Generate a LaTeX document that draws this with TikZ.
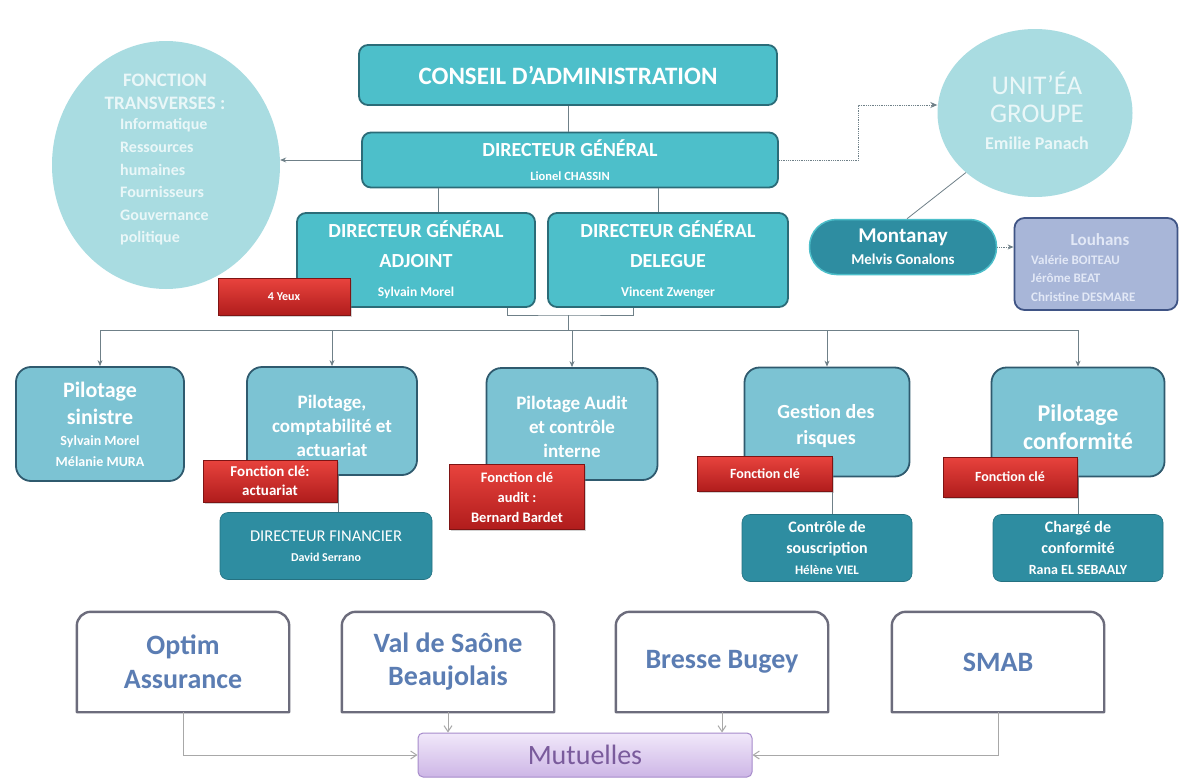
\documentclass[tikz,border=0pt]{standalone}
\usepackage{fontspec}
\setmainfont{Carlito}
\usetikzlibrary{shapes.geometric,arrows.meta,shadows}
\definecolor{tealA}{HTML}{4DBFCA}
\definecolor{tealBorder}{HTML}{2B6C78}
\definecolor{tealL}{HTML}{7CC3D3}
\definecolor{pBorder}{HTML}{2F5A6E}
\definecolor{tealDk}{HTML}{2E8DA1}
\definecolor{ellC}{HTML}{A9DCE1}
\definecolor{ellT}{HTML}{EAF7F8}
\definecolor{redT}{HTML}{E8433D}
\definecolor{redB}{HTML}{B01C1C}
\definecolor{redD}{HTML}{7E1414}
\definecolor{lavB}{HTML}{A8B6D8}
\definecolor{lavD}{HTML}{3F5485}
\definecolor{lavT}{HTML}{E2E8F6}
\definecolor{lineC}{HTML}{6F8088}
\definecolor{grayL}{HTML}{A8A8A8}
\definecolor{boxBorder}{HTML}{6C6C7C}
\definecolor{mutTop}{HTML}{F1E8FA}
\definecolor{mutBot}{HTML}{CDB6E6}
\definecolor{mutD}{HTML}{A68BCB}
\definecolor{mutT}{HTML}{7A5B9C}
\definecolor{bText}{HTML}{5B7DB3}
\newcommand\myfs[2]{\fontsize{#1}{#2}\selectfont}
\begin{document}
\begin{tikzpicture}[x=1pt,y=-1pt,
  topbox/.style={rectangle, rounded corners=9pt, fill=tealA, draw=tealBorder, line width=1.8pt, text=white, align=center, inner sep=0pt},
  pbox/.style={rectangle, rounded corners=15pt, fill=tealL, draw=pBorder, line width=1.8pt, text=white, align=center, inner sep=0pt},
  dbox/.style={rectangle, rounded corners=8pt, fill=tealDk, draw=tealDk!80!black, line width=0.6pt, text=white, align=center, inner sep=0pt},
  rbox/.style={rectangle, top color=redT, bottom color=redB, draw=redD, line width=0.8pt, text=white, align=center, inner sep=0pt, drop shadow={shadow xshift=1.5pt, shadow yshift=-1.5pt, opacity=0.35}},
  wbox/.style={rectangle, fill=white, draw=none, text=bText, align=center, inner sep=0pt, minimum width=212pt, minimum height=100pt},
  conn/.style={draw=lineC, line width=0.8pt},
  arr/.style={conn, -{Stealth[length=6pt,width=5pt]}},
  garr/.style={draw=grayL, line width=1pt, -{Straight Barb[length=6pt,width=8pt]}},
  lbl/.style={inner sep=0pt, align=center}
]
\useasboundingbox (0,0) rectangle (1179,779);
\fill[white] (0,0) rectangle (1179,779);

% ---- ellipses ----
\node[ellipse, fill=ellC, minimum width=228pt, minimum height=248pt, inner sep=0pt] (FT) at (166,165) {};
\node[lbl, text=ellT, font=\myfs{19}{23}\bfseries] (FTt) at (165,92) {FONCTION\\TRANSVERSES :};
\node[lbl, text=ellT, anchor=west, align=left, font=\myfs{16}{22.6}\bfseries] (FTl) at (120,182) {Informatique\\Ressources\\humaines\\Fournisseurs\\Gouvernance\\politique};

\node[ellipse, fill=ellC, minimum width=195pt, minimum height=168pt, inner sep=0pt] (UG) at (1035,113) {};
\node[lbl, text=ellT, font=\myfs{27}{27.5}] (UGt) at (1037,111) {UNIT'ÉA\\GROUPE\\{\fontsize{18}{27.5}\selectfont\bfseries Emilie Panach}};

% ---- top boxes ----
\node[topbox, minimum width=418pt, minimum height=60pt, font=\myfs{25}{28}\bfseries] (CA) at (568,75) {CONSEIL D'ADMINISTRATION};
\node[topbox, minimum width=416pt, minimum height=55pt, font=\myfs{20}{24}\bfseries] (DG) at (570,160) {DIRECTEUR GÉNÉRAL\\{\fontsize{12.5}{24}\selectfont Lionel CHASSIN}};
\node[topbox, minimum width=238pt, minimum height=94pt, font=\myfs{20}{29.5}\bfseries] (DGA) at (416,260) {DIRECTEUR GÉNÉRAL\\ADJOINT\\{\fontsize{13.5}{29.5}\selectfont Sylvain Morel}};
\node[topbox, minimum width=240pt, minimum height=94pt, font=\myfs{20}{29.5}\bfseries] (DGD) at (668,260) {DIRECTEUR GÉNÉRAL\\DELEGUE\\{\fontsize{13.5}{29.5}\selectfont Vincent Zwenger}};

% ---- Montanay / Louhans ----
\node[rectangle, rounded corners=27pt, fill=tealDk, draw=tealA, line width=1.5pt, text=white, align=center, inner sep=0pt, minimum width=187pt, minimum height=55pt, font=\myfs{21}{22}\bfseries] (MT) at (903,247) {Montanay\\{\fontsize{15}{22}\selectfont Melvis Gonalons}};
\node[rectangle, rounded corners=10pt, fill=lavB, draw=lavD, line width=1.8pt, minimum width=163pt, minimum height=92pt, inner sep=0pt] (LH) at (1096,264) {};
\node[lbl, text=lavT, font=\myfs{17}{19}\bfseries] (LHt) at (1100,240) {Louhans};
\node[lbl, text=lavT, anchor=west, align=left, font=\myfs{13}{18.5}\bfseries] (LHl) at (1031,278) {Valérie BOITEAU\\Jérôme BEAT\\Christine DESMARE};

% ---- pilotage row ----
\node[pbox, minimum width=168pt, minimum height=114pt, font=\myfs{22}{21}\bfseries] (P1) at (100,424) {Pilotage\\[6pt]sinistre\\{\fontsize{14}{21}\selectfont Sylvain Morel}\\{\fontsize{14}{21}\selectfont Mélanie MURA}};
\node[pbox, minimum width=170pt, minimum height=108pt] (P2) at (332,421) {};
\node[lbl, text=white, font=\myfs{19}{24}\bfseries] (P2t) at (332,426) {Pilotage,\\comptabilité et\\actuariat};
\node[pbox, minimum width=171pt, minimum height=112pt] (P3) at (572,424) {};
\node[lbl, text=white, font=\myfs{19}{24}\bfseries] (P3t) at (572,427) {Pilotage Audit\\et contrôle\\interne};
\node[pbox, minimum width=165pt, minimum height=109pt] (P4) at (827,422) {};
\node[lbl, text=white, font=\myfs{20}{26}\bfseries] (P4t) at (826,426) {Gestion des\\risques};
\node[pbox, minimum width=173pt, minimum height=109pt] (P5) at (1078,422) {};
\node[lbl, text=white, font=\myfs{24}{28}\bfseries] (P5t) at (1078,427) {Pilotage\\conformité};

% ---- dark boxes ----
\node[dbox, minimum width=212pt, minimum height=67pt, font=\myfs{16.5}{20}] (DF) at (326,546) {DIRECTEUR FINANCIER\\{\fontsize{12}{20}\selectfont\bfseries David Serrano}};
\node[dbox, minimum width=170pt, minimum height=67pt, font=\myfs{16}{21}\bfseries] (CS) at (827,548) {Contrôle de\\souscription\\{\fontsize{13}{21}\selectfont Hélène VIEL}};
\node[dbox, minimum width=170pt, minimum height=67pt, font=\myfs{16}{21}\bfseries] (CC) at (1078,548) {Chargé de\\conformité\\{\fontsize{14}{21}\selectfont Rana EL SEBAALY}};

% ---- bottom boxes ----
\node[wbox, font=\myfs{28}{34}\bfseries] (B1) at (183,662) {Optim\\Assurance};
\node[wbox, font=\myfs{28}{33}\bfseries] (B2) at (448,662) {Val de Saône\\Beaujolais};
\node[wbox, font=\myfs{28}{33}\bfseries] (B3) at (722,662) {Bresse Bugey};
\node[wbox, font=\myfs{28}{33}\bfseries] (B4) at (998,662) {SMAB};
\foreach \b in {B1,B2,B3,B4}{
  \draw[boxBorder, line width=2.4pt, line join=round] (\b.south west) [rounded corners=14pt] -- (\b.north west) -- (\b.north east) [sharp corners] -- (\b.south east) -- cycle;
}
\node[rectangle, rounded corners=5pt, top color=mutTop, bottom color=mutBot, draw=mutD, line width=1pt, text=mutT, inner sep=0pt, minimum width=334pt, minimum height=44pt, font=\myfs{28}{30}] (MU) at (585,755) {Mutuelles};

% ---- connectors ----
\draw[conn] (CA.south) -- (CA.south |- DG.north);
\draw[arr] (DG.west) -- (DG.west -| FT.east);
\draw[conn, densely dotted, line width=1pt, -{Stealth[length=7pt,width=6pt]}] (DG.east) -- ++(80,0) |- ([yshift=8pt]UG.west);
\draw[conn] (UG.south west) -- ([xshift=4pt]MT.north);
\draw[conn, densely dotted, line width=1pt, -{Stealth[length=6pt,width=5pt]}] (MT.east) -- (MT.east -| LH.west);
\draw[conn] ([xshift=22pt]DGA.north) -- ([xshift=22pt]DGA.north |- DG.south);
\draw[conn] ([xshift=-10pt]DGD.north) -- ([xshift=-10pt]DGD.north |- DG.south);
\coordinate (J) at (568,315);
\coordinate (bus) at (568,330);
\draw[conn] ([xshift=91pt]DGA.south) |- (J) -| ([xshift=-35pt]DGD.south);
\draw[conn] (J) -- (bus);
\draw[conn] (P1.north |- bus) -- (P5.north |- bus);
\foreach \p in {P1,P2,P3,P4,P5}{
  \draw[arr] (\p.north |- bus) -- (\p.north);
}
\draw[conn] ([xshift=6pt]P2.south) -- ([xshift=6pt]P2.south |- DF.north);
\draw[conn] ([xshift=5pt]P4.south) -- ([xshift=5pt]P4.south |- CS.north);
\draw[conn] (P5.south) -- (CC.north);

\draw[garr] (B1.south) |- (MU.west);
\draw[garr] (B2.south) -- (B2.south |- MU.north);
\draw[garr] (B3.south) -- (B3.south |- MU.north);
\draw[garr] (B4.south) |- (MU.east);

% ---- red tags ----
\node[rbox, minimum width=132pt, minimum height=37pt, font=\myfs{12}{14}\bfseries] (R1) at (284,297) {4 Yeux};
\node[rbox, minimum width=134pt, minimum height=42pt, font=\myfs{15}{19}\bfseries] (R2) at (270,481) {Fonction clé:\\actuariat};
\node[rbox, minimum width=135pt, minimum height=65pt, font=\myfs{14.5}{20}\bfseries] (R3) at (517,497) {Fonction clé\\audit :\\Bernard Bardet};
\node[rbox, minimum width=135pt, minimum height=35pt, font=\myfs{14}{16}\bfseries] (R4) at (765,474) {Fonction clé};
\node[rbox, minimum width=134pt, minimum height=40pt, font=\myfs{14}{16}\bfseries] (R5) at (1010,477) {Fonction clé};
\end{tikzpicture}
\end{document}
